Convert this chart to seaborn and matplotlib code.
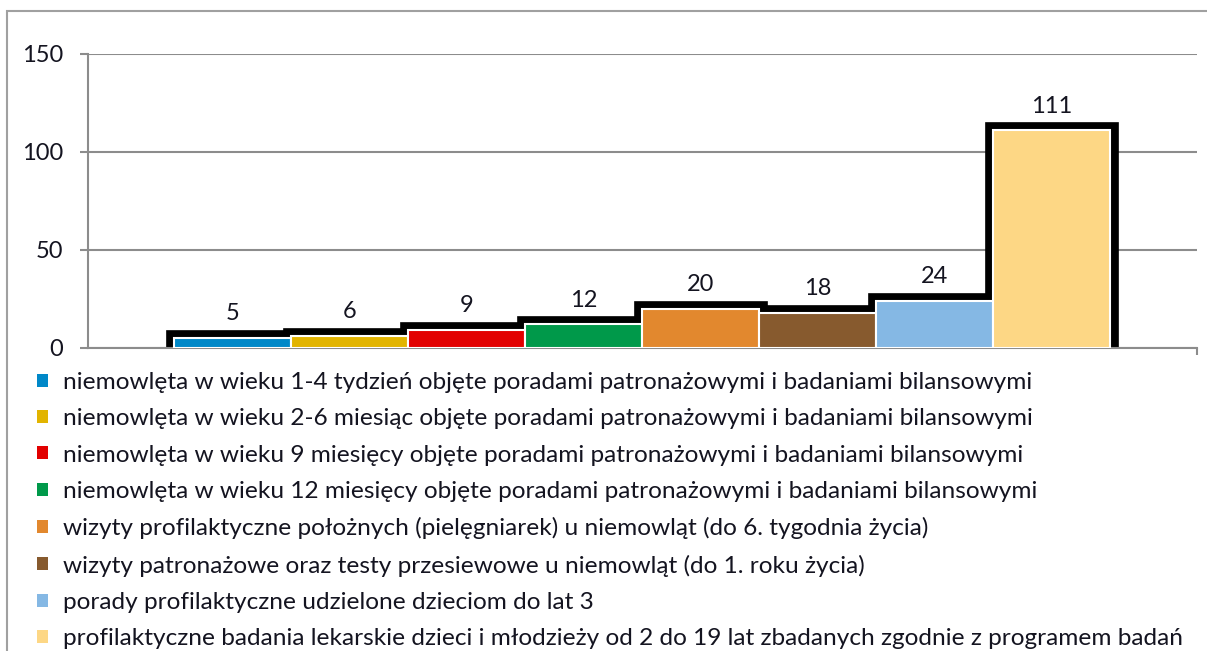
import matplotlib
matplotlib.use('Agg')
import matplotlib.pyplot as plt
import seaborn as sns
import numpy as np
import pandas as pd
from matplotlib.patches import Rectangle, Patch

# Data
labels = [
    'niemowlęta w wieku 1-4 tydzień objęte poradami patronażowymi i badaniami bilansowymi',
    'niemowlęta w wieku 2-6 miesiąc objęte poradami patronażowymi i badaniami bilansowymi',
    'niemowlęta w wieku 9 miesięcy objęte poradami patronażowymi i badaniami bilansowymi',
    'niemowlęta w wieku 12 miesięcy objęte poradami patronażowymi i badaniami bilansowymi',
    'wizyty profilaktyczne położnych (pielęgniarek) u niemowląt (do 6. tygodnia życia)',
    'wizyty patronażowe oraz testy przesiewowe u niemowląt (do 1. roku życia)',
    'porady profilaktyczne udzielone dzieciom do lat 3',
    'profilaktyczne badania lekarskie dzieci i młodzieży od 2 do 19 lat zbadanych zgodnie z programem badań',
]
values = [5, 6, 9, 12, 20, 18, 24, 111]
colors = ['#0088C8', '#E2B400', '#E20000', '#00994A',
          '#E2882E', '#875A2E', '#85B8E4', '#FDD785']
y_ticks = [0, 50, 100, 150]

df = pd.DataFrame({'label': labels, 'value': values})

sns.set_theme(style='white')
plt.rcParams['font.family'] = ['Lato', 'DejaVu Sans']
text_color = '#141420'
grid_color = '#8c8c8c'
fs = 17

fig = plt.figure(figsize=(12.07, 6.51), dpi=100)
ax = fig.add_axes([88 / 1207, 1 - 348 / 651, (1197 - 88) / 1207, (348 - 54) / 651])

# black "shadow" outline behind the bars
sns.barplot(data=df, x='label', y='value', color='black', edgecolor='black',
            linewidth=12, width=1.0, saturation=1, ax=ax, zorder=2)
# coloured bars on top
sns.barplot(data=df, x='label', y='value', hue='label', palette=colors,
            edgecolor='white', linewidth=1.5, width=1.0, saturation=1,
            dodge=False, legend=False, ax=ax, zorder=3)

# value labels
for cont in ax.containers[1:]:
    ax.bar_label(cont, fmt='%d', padding=10, fontsize=fs, color=text_color)

ax.set_ylim(0, 150)
ax.set_xlim(-1.235, 8.244)
ax.set_yticks(y_ticks)
ax.set_xticks([8.244])
ax.set_xticklabels([''])
ax.set_xlabel('')
ax.set_ylabel('')
ax.yaxis.grid(True, color=grid_color, linewidth=1.5, zorder=0)
ax.set_axisbelow(True)
ax.tick_params(axis='y', left=True, length=6, width=1.5, color=grid_color,
               labelsize=fs, labelcolor=text_color, pad=12)
ax.tick_params(axis='x', bottom=True, length=5, width=1.5, color=grid_color)
for side in ['top', 'right']:
    ax.spines[side].set_visible(False)
for side in ['left', 'bottom']:
    ax.spines[side].set_color(grid_color)
    ax.spines[side].set_linewidth(1.5)

# legend below the plot
handles = [Patch(facecolor=c, edgecolor='none') for c in colors]
fig.legend(handles, labels, loc='upper left',
           bbox_to_anchor=(37 / 1207, 1 - 372 / 651), frameon=False,
           fontsize=17.6, handlelength=0.45, handleheight=0.45,
           handletextpad=0.6, labelspacing=0.625, borderpad=0, borderaxespad=0,
           labelcolor=text_color)

# outer chart frame
fig.patches.append(Rectangle((7 / 1207, -0.1), 1.1, 1 - 11 / 651 + 0.1,
                             transform=fig.transFigure, fill=False,
                             edgecolor='#a0a0a0', linewidth=1.5))

fig.savefig('out.png', dpi=100)
